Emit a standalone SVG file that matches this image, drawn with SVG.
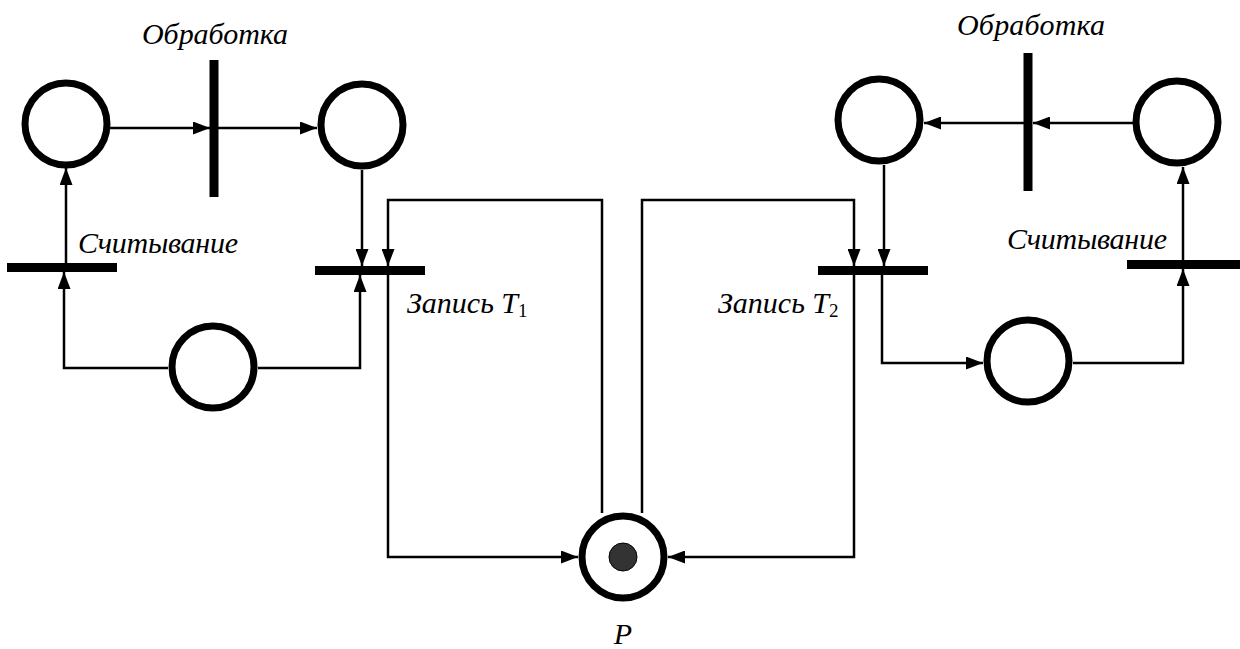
<svg xmlns="http://www.w3.org/2000/svg" width="1240" height="649" viewBox="0 0 1240 649">
<style>
.place{fill:none;stroke:#000;stroke-width:7}
.trans{fill:#000}
.arc{fill:none;stroke:#000;stroke-width:2.5}
.lbl{font-family:"Liberation Serif","Times New Roman",serif;font-style:italic;font-size:30px;fill:#000}
.sub{font-size:19px;font-style:normal}
</style>
<defs>
<marker id="ah" viewBox="0 0 17 13" refX="17" refY="6.5" markerWidth="17" markerHeight="13" markerUnits="userSpaceOnUse" orient="auto">
<path d="M0,0 L17,6.5 L0,13 z" fill="#000"/>
</marker>
</defs>
<rect width="1240" height="649" fill="#fff"/>

<g id="connectors">
<path class="arc" d="M110,128 H210" marker-end="url(#ah)"/>
<path class="arc" d="M218,128 H317" marker-end="url(#ah)"/>
<path class="arc" d="M362,170 V266" marker-end="url(#ah)"/>
<path class="arc" d="M602,513 V200 H388 V266" marker-end="url(#ah)"/>
<path class="arc" d="M168,368 H64 V272" marker-end="url(#ah)"/>
<path class="arc" d="M66,263 V168" marker-end="url(#ah)"/>
<path class="arc" d="M258,368 H360 V275" marker-end="url(#ah)"/>
<path class="arc" d="M388,275 V557 H578" marker-end="url(#ah)"/>
<path class="arc" d="M642,513 V200 H854 V266" marker-end="url(#ah)"/>
<path class="arc" d="M884,165 V266" marker-end="url(#ah)"/>
<path class="arc" d="M854,275 V557 H668" marker-end="url(#ah)"/>
<path class="arc" d="M882,275 V363 H983" marker-end="url(#ah)"/>
<path class="arc" d="M1073,363 H1183 V269" marker-end="url(#ah)"/>
<path class="arc" d="M1183,260 V167" marker-end="url(#ah)"/>
<path class="arc" d="M1133,123 H1033" marker-end="url(#ah)"/>
<path class="arc" d="M1024,123 H924" marker-end="url(#ah)"/>
</g>

<g id="p1"><circle class="place" cx="66" cy="124" r="41"/></g>
<g id="p2"><circle class="place" cx="362" cy="125" r="41"/></g>
<g id="p3"><circle class="place" cx="213" cy="367" r="41"/></g>
<g id="p4"><circle class="place" cx="879" cy="120" r="41"/></g>
<g id="p5"><circle class="place" cx="1177" cy="122" r="41"/></g>
<g id="p6"><circle class="place" cx="1028" cy="361" r="41"/></g>
<g id="pP"><circle class="place" cx="623" cy="557" r="41"/><circle cx="623" cy="557" r="14" fill="#333" stroke="#000" stroke-width="1"/>
<text class="lbl" x="623" y="644" text-anchor="middle">P</text></g>

<g id="t_obr1"><rect class="trans" x="209.5" y="60" width="9" height="137"/>
<text class="lbl" x="215" y="44" text-anchor="middle" textLength="146">Обработка</text></g>
<g id="t_sch1"><rect class="trans" x="7" y="263" width="110" height="9"/>
<text class="lbl" x="78" y="253" textLength="160">Считывание</text></g>
<g id="t_T1"><rect class="trans" x="315" y="266" width="110" height="9"/>
<text class="lbl" x="407" y="313">Запись <tspan>T</tspan><tspan class="sub" dy="4">1</tspan></text></g>
<g id="t_obr2"><rect class="trans" x="1023.5" y="53" width="9" height="138"/>
<text class="lbl" x="1031" y="35" text-anchor="middle" textLength="148">Обработка</text></g>
<g id="t_sch2"><rect class="trans" x="1127" y="260" width="113" height="9"/>
<text class="lbl" x="1007" y="249" textLength="160">Считывание</text></g>
<g id="t_T2"><rect class="trans" x="818" y="266" width="110" height="9"/>
<text class="lbl" x="718" y="313">Запись <tspan>T</tspan><tspan class="sub" dy="4">2</tspan></text></g>
</svg>
